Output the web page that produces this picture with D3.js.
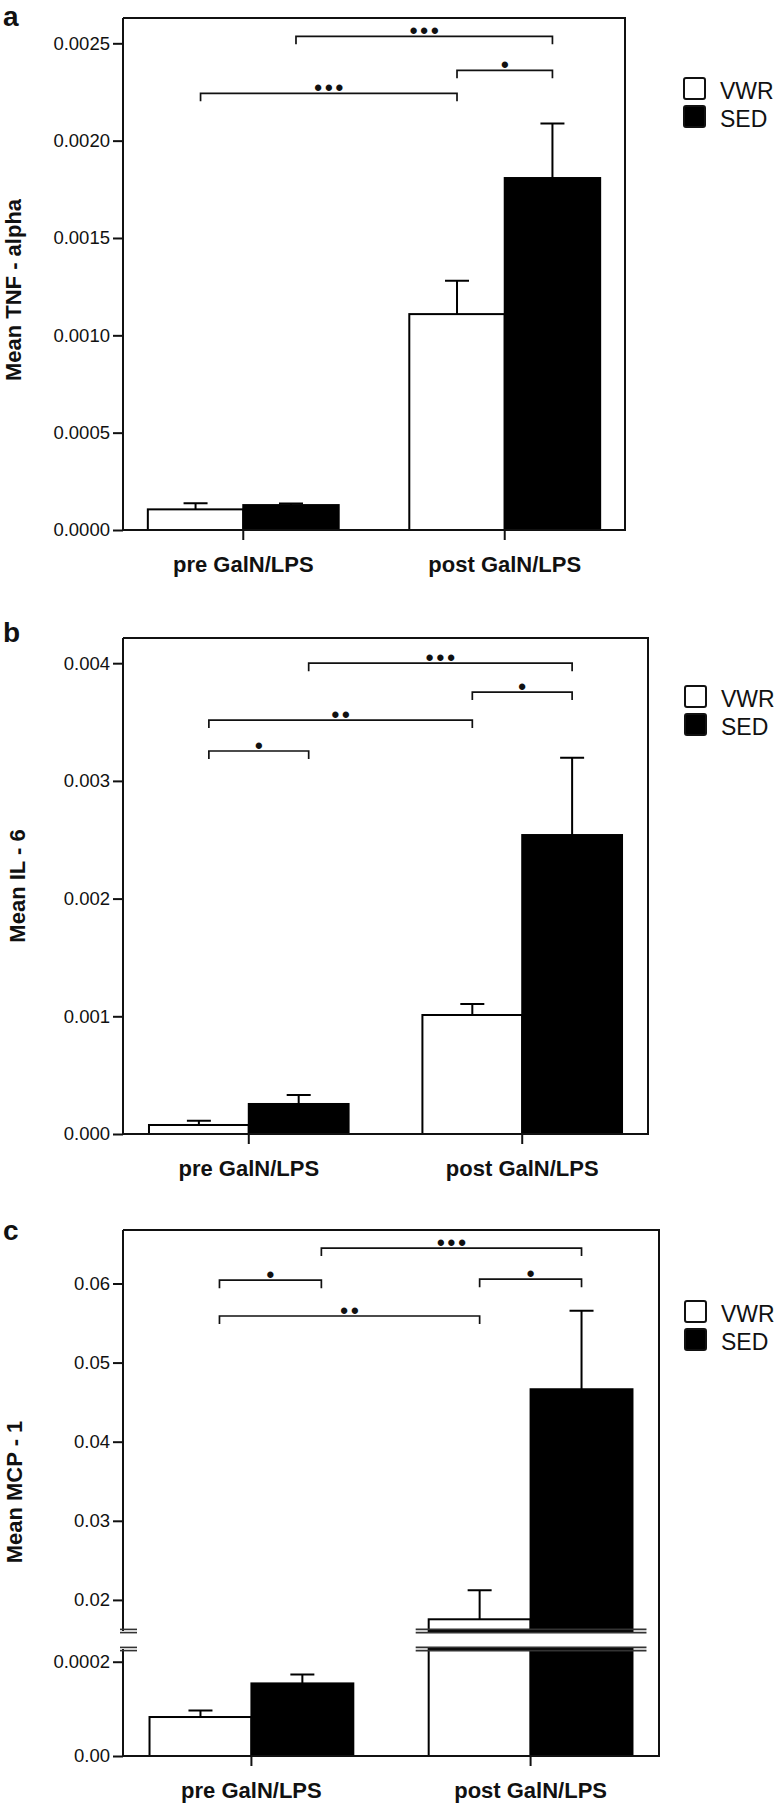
<!DOCTYPE html>
<html>
<head>
<meta charset="utf-8">
<script src="https://cdn.jsdelivr.net/npm/d3@7"></script>
<style>
  body { margin: 0; background: #fff; }
  text { font-family: "Liberation Sans", Arial, sans-serif; fill: #111; }
</style>
</head>
<body>
<svg id="fig" width="781" height="1805"></svg>
<script>
const groups = ["pre GalN/LPS", "post GalN/LPS"]
const series = ["VWR", "SED"]

// a: TNF - alpha
const tnfVWR = [0.000106, 0.001109]
const tnfVWRerr = [0.000031, 0.000171]
const tnfSED = [0.000128, 0.001808]
const tnfSEDerr = [0.000008, 0.00028]
const tnfTicks = [0, 0.0005, 0.001, 0.0015, 0.002, 0.0025]
// from/to = [group index, series index]
const tnfSig = [
  {from: [0, 1], to: [1, 1], y: 0.002536, label: "•••"},
  {from: [1, 0], to: [1, 1], y: 0.002361, label: "•"},
  {from: [0, 0], to: [1, 0], y: 0.002243, label: "•••"}
]

// b: IL - 6
const ilVWR = [0.0000765, 0.001011]
const ilVWRerr = [0.000037, 0.000094]
const ilSED = [0.000255, 0.00254]
const ilSEDerr = [0.000076, 0.000657]
const ilTicks = [0, 0.001, 0.002, 0.003, 0.004]
const ilSig = [
  {from: [0, 1], to: [1, 1], y: 0.004, label: "•••"},
  {from: [1, 0], to: [1, 1], y: 0.003755, label: "•"},
  {from: [0, 0], to: [1, 0], y: 0.003517, label: "••"},
  {from: [0, 0], to: [0, 1], y: 0.003254, label: "•"}
]

// c: MCP - 1 (broken axis)
const mcpVWR = [0.0000827, 0.01755]
const mcpVWRerr = [0.000014, 0.00368]
const mcpSED = [0.000154, 0.04663]
const mcpSEDerr = [0.000019, 0.00992]
const mcpTicks = [0.02, 0.03, 0.04, 0.05, 0.06]
const mcpLowTicks = [0, 0.0002]
const mcpLowLabels = ["0.00", "0.0002"]
const mcpSig = [
  {from: [0, 1], to: [1, 1], y: 0.06447, label: "•••"},
  {from: [0, 0], to: [0, 1], y: 0.06042, label: "•"},
  {from: [1, 0], to: [1, 1], y: 0.06055, label: "•"},
  {from: [0, 0], to: [1, 0], y: 0.05589, label: "••"}
]

const panels = [
  {letter: "a", letterY: 26, top: 18, bottom: 530, left: 123, right: 625, yMax: 0.00263,
   ylabel: "Mean TNF - alpha", labelX: 21, labelY: 290,
   values: [tnfVWR, tnfSED], errors: [tnfVWRerr, tnfSEDerr],
   ticks: tnfTicks, fmt: d3.format(".4f"), sig: tnfSig, preShift: 5, legendX: 684, legendY: 78},
  {letter: "b", letterY: 642, top: 638, bottom: 1134, left: 123, right: 648, yMax: 0.004214,
   ylabel: "Mean IL - 6", labelX: 25, labelY: 886,
   values: [ilVWR, ilSED], errors: [ilVWRerr, ilSEDerr],
   ticks: ilTicks, fmt: d3.format(".3f"), sig: ilSig, preShift: 10, legendX: 685, legendY: 686},
  {letter: "c", letterY: 1240, top: 1230, bottom: 1756, left: 123, right: 659, yMax: 0.06676,
   ylabel: "Mean MCP - 1", labelX: 22, labelY: 1492,
   values: [mcpVWR, mcpSED], errors: [mcpVWRerr, mcpSEDerr],
   ticks: mcpTicks, fmt: d3.format(".2f"), sig: mcpSig, preShift: 19, legendX: 685, legendY: 1301,
   brk: {upMin: 0.01607, upBottom: 1631, lowMax: 0.000227, lowTop: 1649,
         lowTicks: mcpLowTicks, lowLabels: mcpLowLabels}}
]

const svg = d3.select("#fig")

function styleAxis(a, size, weight) {
  a.select(".domain").remove()
  a.attr("font-family", null).attr("font-size", null)
  a.selectAll("line").attr("stroke", "#111").attr("stroke-width", 2)
  a.selectAll("text").style("font-size", size + "px").style("font-weight", weight).attr("fill", "#111")
}

function drawPanel(p) {
  const g = svg.append("g")
  const x0 = d3.scaleBand().domain(groups).range([p.left, p.right]).paddingInner(0.27).paddingOuter(0.095)
  const x1 = d3.scaleBand().domain(series).range([0, x0.bandwidth()])

  let yUp, yLow
  if (p.brk) {
    yUp = d3.scaleLinear().domain([p.brk.upMin, p.yMax]).range([p.brk.upBottom, p.top])
    yLow = d3.scaleLinear().domain([0, p.brk.lowMax]).range([p.bottom, p.brk.lowTop])
  } else {
    yUp = d3.scaleLinear().domain([0, p.yMax]).range([p.bottom, p.top])
  }
  const yOf = v => (p.brk && v <= p.brk.lowMax) ? yLow(v) : yUp(v)

  // bars (split in two pieces when they cross the break)
  const bars = []
  groups.forEach((gr, i) => series.forEach((s, j) => {
    bars.push({group: gr, s: s, v: p.values[j][i], e: p.errors[j][i]})
  }))
  const segs = []
  bars.forEach(b => {
    if (p.brk && b.v > p.brk.lowMax) {
      segs.push({...b, y0: yLow(0), y1: yLow(p.brk.lowMax)})
      segs.push({...b, y0: yUp(p.brk.upMin), y1: yUp(b.v)})
    } else {
      segs.push({...b, y0: yOf(0), y1: yOf(b.v)})
    }
  })
  g.selectAll("rect.bar").data(segs).join("rect")
    .attr("class", "bar")
    .attr("x", d => x0(d.group) + x1(d.s))
    .attr("width", x1.bandwidth())
    .attr("y", d => d.y1)
    .attr("height", d => d.y0 - d.y1)
    .attr("fill", d => d.s === "VWR" ? "#fff" : "#000")
    .attr("stroke", "#000")
    .attr("stroke-width", 2)

  // error bars, upper half only
  const cx = d => x0(d.group) + x1(d.s) + x1.bandwidth() / 2
  g.selectAll("path.err").data(bars).join("path")
    .attr("class", "err")
    .attr("d", d => {
      const yt = yOf(d.v + d.e), yb = yOf(d.v)
      return `M${cx(d)},${yb}V${yt}M${cx(d) - 12},${yt}H${cx(d) + 12}`
    })
    .attr("fill", "none").attr("stroke", "#000").attr("stroke-width", 2)

  // frame
  g.append("path")
    .attr("d", `M${p.left},${p.top}H${p.right}V${p.bottom}H${p.left}`)
    .attr("fill", "none").attr("stroke", "#111").attr("stroke-width", 2)
  const leftSegs = p.brk ? [[p.top, p.brk.upBottom], [p.brk.lowTop, p.bottom]] : [[p.top, p.bottom]]
  leftSegs.forEach(s => g.append("line")
    .attr("x1", p.left).attr("x2", p.left).attr("y1", s[0]).attr("y2", s[1])
    .attr("stroke", "#111").attr("stroke-width", 2))

  // y axis
  g.append("g").attr("transform", `translate(${p.left},0)`)
    .call(d3.axisLeft(yUp).tickValues(p.ticks).tickFormat(p.fmt).tickSize(10).tickPadding(3))
    .call(a => styleAxis(a, 18.5, "normal"))
  if (p.brk) {
    g.append("g").attr("transform", `translate(${p.left},0)`)
      .call(d3.axisLeft(yLow).tickValues(p.brk.lowTicks).tickFormat((d, i) => p.brk.lowLabels[i]).tickSize(10).tickPadding(3))
      .call(a => styleAxis(a, 18.5, "normal"))

    // break marks on the axis and across the post bars
    const post = groups[1]
    const marks = [[p.left - 3, p.left + 14], [x0(post) - 13, x0(post) + x0.bandwidth() + 14]]
    ;[p.brk.upBottom, p.brk.lowTop].forEach(yb => {
      marks.forEach(m => {
        ;[-1.6, 1.6].forEach(off => g.append("line")
          .attr("x1", m[0]).attr("x2", m[1]).attr("y1", yb + off).attr("y2", yb + off)
          .attr("stroke", "#333").attr("stroke-width", 1.6))
      })
    })
  }

  // x axis
  g.append("g").attr("transform", `translate(0,${p.bottom})`)
    .call(d3.axisBottom(x0).tickSize(10).tickPadding(16))
    .call(a => styleAxis(a, 22, "bold"))

  // significance brackets
  const bx = (gi, si) => x0(groups[gi]) + x1(series[si]) + x1.bandwidth() / 2 + (gi === 0 ? p.preShift : 0)
  p.sig.forEach(s => {
    const xa = bx(s.from[0], s.from[1]), xb = bx(s.to[0], s.to[1]), yy = yUp(s.y)
    g.append("path")
      .attr("d", `M${xa},${yy + 8}V${yy}H${xb}V${yy + 8}`)
      .attr("fill", "none").attr("stroke", "#111").attr("stroke-width", 1.7)
    g.append("text")
      .attr("x", (xa + xb) / 2).attr("y", yy + 2).attr("dx", 1.5)
      .attr("text-anchor", "middle")
      .style("font-size", "22px").style("font-weight", "bold").style("letter-spacing", "3px")
      .text(s.label)
  })

  // y label
  g.append("text")
    .attr("transform", `translate(${p.labelX},${p.labelY}) rotate(-90)`)
    .attr("text-anchor", "middle")
    .style("font-size", "22px").style("font-weight", "bold")
    .text(p.ylabel)

  // panel letter
  g.append("text").attr("x", 3).attr("y", p.letterY)
    .style("font-size", "28px").style("font-weight", "bold")
    .text(p.letter)

  // legend
  const lg = g.append("g").attr("transform", `translate(${p.legendX},${p.legendY})`)
  series.forEach((s, j) => {
    lg.append("rect").attr("x", 0).attr("y", j * 28).attr("width", 21).attr("height", 21).attr("rx", 2)
      .attr("fill", s === "VWR" ? "#fff" : "#000").attr("stroke", "#111").attr("stroke-width", 2)
    lg.append("text").attr("x", 36).attr("y", j * 28 + 21)
      .style("font-size", "23px")
      .text(s)
  })
}

panels.forEach(drawPanel)
</script>
</body>
</html>
